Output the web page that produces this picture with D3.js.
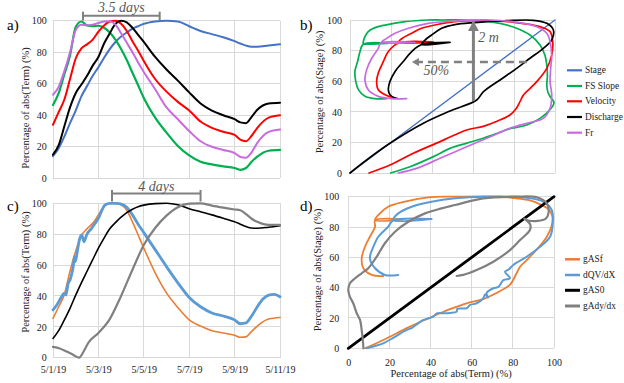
<!DOCTYPE html>
<html><head><meta charset="utf-8">
<script src="https://cdn.jsdelivr.net/npm/d3@7"></script>
<style>
body{margin:0;background:#fff}
svg text{font-family:"Liberation Serif","Times New Roman",serif}
</style>
</head><body>
<svg id="chart" width="624" height="383"></svg>
<script>
// ---------- DATA ----------
const yTicks = [0, 20, 40, 60, 80, 100];
const pctTicks = [0, 20, 40, 60, 80, 100];
const dateLabels = ["5/1/19", "5/3/19", "5/5/19", "5/7/19", "5/9/19", "5/11/19"];
const dateTickDays = [0, 2, 4, 6, 8, 10];

// Panel a (days since 5/1/19)
const daysA = [0,0.25,0.5,0.75,1,1.25,1.5,1.75,2,2.25,2.5,2.75,3,3.25,3.5,3.75,4,4.5,5,5.5,6,6.5,7,7.5,8,8.25,8.5,8.75,9,9.5,10];
const stageA = [14,19,26.5,35,43,52,58.5,65,70.5,76.5,82,86.5,90,92.5,95,96.5,98,99.5,100,99.5,96.5,93.5,91.5,89.5,87,85.5,84.2,83.5,83.5,84.3,85];
const fsSlopeA = [46.5,54,66,78,96,99.5,97,96.5,96.8,95.5,92.5,88,82,75,67,59,51,38.5,29,20.5,14.5,10.5,8.8,7.6,6.5,5.4,6.5,10.5,13.8,17.5,18];
const velocityA = [34,42,50,63,76,82.5,85,88,93,97,99.5,100,98,93.5,87,81,74.5,63,55,48.5,43,36,32,29.5,27.5,24.5,23.5,27,32,38.5,40];
const dischargeA = [15,21,33,45,54,59.5,65,71.5,77,85.5,92,98,100,99,95.5,91,86.5,77,69,62,54.5,47.5,43,40,37.5,35.5,35,39,43.5,47.5,48];
const frA = [53,58,68,80,94,97.5,97,97.5,98.5,99.5,99.7,97.5,92,86,80,73.5,67.5,56.5,45,37.5,30,23.5,20,18,16,13.5,13,16.5,22.5,29.5,31];

// Panel c
const gasfC = [25.5,33,41,56,69,79,83.5,87,92.5,98,100,100,99,95.5,88,79.5,71,55,42,32.5,24.5,20.5,17.5,16,14.5,13.2,13.5,17,20.5,25,26];
const gas0C = [12.5,17.5,24.5,32,40.5,48.5,56,63.5,71,77.5,83.5,87.5,91,94,96.2,97.8,98.8,99.8,100,99,96.5,94.5,92.5,90.3,88,86.5,85,84,83.8,84.5,85.5];
const dqvDays = [0,0.16,0.38,0.48,0.57,0.67,0.75,0.82,0.9,0.94,0.98,1.07,1.16,1.26,1.37,1.48,1.7,2,2.29,2.5,2.8,3,3.25,3.5,3.75,4,4.5,5,5.5,6,6.5,7,7.5,8,8.25,8.5,8.75,9,9.25,9.5,9.75,10];
const dqvC = [31,34,39.5,41.7,40.6,48.2,50.3,54,60,65.4,62.2,68.7,76.2,79.5,75.1,79.5,83.8,90.3,98.9,100,100,99.5,97.5,92.5,86.5,81,70,59,48.5,39,33,29,27,24.5,22,22.5,27,33,38,40.5,41,39.5];
const gadyDays = [0,0.3,0.6,0.9,1.15,1.35,1.55,2,2.5,3,3.5,4,4.5,5,5.5,6,6.5,7,7.5,8,8.25,8.5,8.75,9,9.5,10];
const gadyC = [7,6,4,1.8,0,4,9.5,16,25,40,57,73,84,92,97.5,99.8,100,98.5,97.2,96,95.5,93,90,88,86,86];

// Panel b: [term %, stage %]
const stageB = [[0,0],[100,100]];
const fsSlopeB = [[19.8,0],[29.3,4.1],[40.7,10.7],[48.8,16.1],[57,19.5],[65,22.7],[72,26],[78,29],[81.3,29.8],[86.2,31.4],[92.7,35.7],[97.6,41.5],[99.5,46],[97.6,50],[96.5,53],[96,57.3],[96.3,63.9],[96,70.4],[95.1,77],[92.7,83.7],[87.8,90.2],[81.3,94.6],[73.2,97.8],[65,99.3],[55.3,100],[45,100],[38.2,100],[26.8,98.9],[17.1,96.7],[12.2,95],[8.9,92.4],[7.3,89.1],[6.5,85.8],[6.5,84.6],[18.7,84.8],[6.5,84.2],[4.9,79.4],[3.7,72.9],[2.4,66.4],[2.8,59.9],[4.1,54.5],[7.3,50.1],[12.2,48.6],[17.9,48.6]];
const velocityB = [[9.3,0],[19.5,5.2],[30.9,12.9],[43.9,20.5],[48.8,23.5],[56.9,28.1],[65,30.5],[72,34],[78,37.9],[81,42],[82.9,46.6],[84.6,51],[88,55.5],[91.1,59.7],[96,68.4],[98.4,77],[98.9,85.8],[97.6,92.4],[93,95.5],[89.4,96.7],[80,98.5],[73.2,99.3],[60.2,99.6],[51.2,98.9],[43.1,97.2],[34.9,94.6],[30.1,91.3],[26,88.5],[23.6,85.4],[40.7,85.6],[23.6,85],[18.7,79.4],[16.3,72.9],[13.8,65.3],[13,59.9],[13.8,54.4],[17.1,51.2],[22,49]];
const dischargeB = [[0,0],[8.1,8.5],[19.5,19.4],[35.8,32.5],[48.8,40.5],[61.8,47.7],[65,53],[73.2,60.8],[81.3,68.4],[87.8,75],[94.3,81.5],[98.4,87],[99.2,93.5],[96,97.8],[89.4,99.8],[76.4,99.6],[66.7,98.9],[60.2,98.3],[51.2,97],[44.7,94.6],[39.8,90.2],[36.6,86.9],[35,84.1],[48.8,85.4],[35,84],[30.1,79.4],[26,72.9],[22,66.4],[19.5,59.9],[18.7,54.5],[19.5,51.2],[22,49],[23,48.8]];
const frB = [[23.6,0],[32.5,3],[43.9,9.6],[56.9,17.2],[66.7,22.7],[78,29.2],[87.8,33],[94.3,35.7],[97.6,42.3],[98.4,51],[97.6,59.7],[97.9,68.4],[98.4,77],[97.6,85.8],[96,91.3],[91.1,95.6],[81.3,98.5],[68.3,100],[51.2,99.3],[38.2,97.8],[28.5,94.6],[22,91.3],[17.9,88],[15.4,85.4],[31.7,85.2],[15,85],[13.8,81.5],[10.6,75],[8.1,67.4],[7.3,60.9],[8.9,54.4],[13.8,50.1],[20.3,48.6],[27.6,48.6]];

// Panel d: [term %, stage %]
const gasfD = [[8.1,0],[17,5.5],[30,14.3],[44.6,23.1],[49.4,25.8],[57.5,29.7],[65.6,32.5],[72,36.5],[78.6,42],[81.8,49.5],[83.5,53.8],[85.1,56],[89.9,62.6],[94,69],[96.5,73.6],[98.9,81],[99.2,87],[97.5,91.5],[93.5,94.8],[88.3,97.5],[81.9,98.9],[73.7,100],[51.9,100],[38.9,99.6],[27.6,96.7],[19.4,93.4],[15.4,89],[13,84.6],[26.7,85],[13,84.4],[13,80.2],[10.5,73.6],[8.1,67],[6.5,59.4],[7.3,52.8],[11.4,48.4],[17,47.7]];
const dqvD = [[8.9,0],[13,1.5],[17,3.3],[22,7],[28.4,12.1],[31,13.5],[33,15.5],[36.5,18.7],[38.5,19.5],[41.3,20.9],[43,23],[46.2,23.1],[49.4,23.3],[52.7,24.2],[53,26],[57.5,26.4],[59.2,28.6],[62.4,29.7],[65.6,33],[66.5,35.5],[68,33.5],[67.2,36.3],[70.5,39.6],[73,40.5],[75.4,45],[78.6,46.2],[76.2,50.5],[78,52],[80.2,55],[86.7,60.4],[93.2,67],[98.1,73.6],[99.4,82.4],[98.9,91.2],[94.8,96.7],[85.1,99.5],[65.6,100],[51.9,98.9],[40.5,96.7],[30.8,93.4],[24.3,89],[21.9,84.6],[40.5,85.3],[21.9,84.4],[19.4,80.2],[14.6,73.6],[12.2,67],[10.5,59.4],[13,52.8],[17.8,48.4],[24.3,48.4]];
const gas0D = [[0,0],[100,100]];
const gadyD = [[7.3,0],[7.3,1],[6.5,12],[5.7,18.7],[4.1,23.1],[2.4,29.7],[0.8,34],[0,38.5],[0.8,42.9],[3.3,46.2],[6.5,49.5],[9.7,52.8],[13.8,60.4],[17.8,69.3],[22.7,76.9],[29.2,83.5],[37.3,89],[45.4,92.3],[51.9,94.5],[65.6,98.9],[81.9,100],[91.6,99.6],[96.5,95.6],[97.3,89],[96,85.5],[92,84],[87.5,84.3],[85.5,85.5],[87,84],[88.5,81.5],[88.3,78],[83.5,71.4],[78.6,64.8],[70.5,57.1],[62.4,51.6],[55.9,48.4],[52.7,47.7]];

const legendB = ["Stage", "FS Slope", "Velocity", "Discharge", "Fr"];
const legendD = ["gASf", "dQV/dX", "gAS0", "gAdy/dx"];

// ---------- DRAW ----------
const FONT = '"Liberation Serif","Times New Roman",serif';
const svg = d3.select("#chart");
const base = new Date(2019, 4, 1);
const toDate = d => d3.timeMinute.offset(base, Math.round(d * 1440));

const xT = d3.scaleTime().domain([toDate(0), toDate(10)]).range([53, 280]);
const yA = d3.scaleLinear().domain([0, 100]).range([178.3, 20.7]);
const yC = d3.scaleLinear().domain([0, 100]).range([357.7, 203.3]);
const xB = d3.scaleLinear().domain([0, 100]).range([350, 555]);
const yB = d3.scaleLinear().domain([0, 100]).range([173, 20]);
const xD = d3.scaleLinear().domain([0, 100]).range([348.3, 554]);
const yD = d3.scaleLinear().domain([0, 100]).range([348.3, 196.7]);

const defs = svg.append("defs");
defs.append("marker").attr("id", "ah").attr("markerUnits", "userSpaceOnUse")
  .attr("markerWidth", 11).attr("markerHeight", 11).attr("refX", 10).attr("refY", 5.5).attr("orient", "auto")
  .append("path").attr("d", "M0,0 L10,5.5 L0,11 Z").attr("fill", "#808080");
defs.append("marker").attr("id", "ah2").attr("markerUnits", "userSpaceOnUse")
  .attr("markerWidth", 8).attr("markerHeight", 8).attr("refX", 7).attr("refY", 4).attr("orient", "auto")
  .append("path").attr("d", "M0,0 L7,4 L0,8 Z").attr("fill", "#808080");

function grid(x, y, xVals, yVals) {
  const g = svg.append("g").attr("shape-rendering", "crispEdges");
  g.selectAll(null).data(yVals).join("line")
    .attr("x1", x.range()[0]).attr("x2", x.range()[1])
    .attr("y1", d => y(d)).attr("y2", d => y(d))
    .attr("stroke", "#d9d9d9").attr("stroke-width", 1);
  g.selectAll(null).data(xVals).join("line")
    .attr("x1", d => x(d)).attr("x2", d => x(d))
    .attr("y1", y.range()[0]).attr("y2", y.range()[1])
    .attr("stroke", "#d9d9d9").attr("stroke-width", 1);
}
function styleAxis(g) {
  g.select(".domain").remove();
  g.attr("font-family", FONT).attr("font-size", 10);
  g.selectAll("text").attr("fill", "#222");
}
function yAxis(y, xpos, pad) {
  svg.append("g").attr("transform", `translate(${xpos},0)`)
    .call(d3.axisLeft(y).tickValues(yTicks).tickSize(0).tickPadding(pad))
    .call(styleAxis);
}
function vTitle(text, x, y) {
  svg.append("text").attr("transform", `translate(${x},${y}) rotate(-90)`)
    .attr("text-anchor", "middle").attr("dominant-baseline", "central")
    .attr("font-size", 10.5).attr("fill", "#222").text(text);
}
function label(text, x, y) {
  svg.append("text").attr("x", x).attr("y", y).attr("font-size", 15).attr("fill", "#000").text(text);
}
function tsLine(days, vals, y, color, w) {
  const pts = days.map((d, i) => [toDate(d), vals[i]]);
  svg.append("path").datum(pts)
    .attr("d", d3.line().x(p => xT(p[0])).y(p => y(p[1])).curve(d3.curveMonotoneX))
    .attr("fill", "none").attr("stroke", color).attr("stroke-width", w)
    .attr("stroke-linejoin", "round").attr("stroke-linecap", "round");
}
function loopLine(pts, x, y, color, w, smooth = true) {
  svg.append("path").datum(pts)
    .attr("d", d3.line().x(p => x(p[0])).y(p => y(p[1])).curve(smooth ? d3.curveCatmullRom.alpha(0.5) : d3.curveLinear))
    .attr("fill", "none").attr("stroke", color).attr("stroke-width", w)
    .attr("stroke-linejoin", "round").attr("stroke-linecap", "round");
}
function italicNote(text, x, y, anchor = "middle") {
  svg.append("text").attr("x", x).attr("y", y).attr("text-anchor", anchor)
    .attr("font-size", 14).attr("font-style", "italic").attr("fill", "#595959").text(text);
}
function bracket(x1, x2, y, top, bottom) {
  const g = svg.append("g").attr("stroke", "#808080").attr("stroke-width", 2);
  g.append("line").attr("x1", x1).attr("x2", x2).attr("y1", y).attr("y2", y);
  g.append("line").attr("x1", x1).attr("x2", x1).attr("y1", top).attr("y2", bottom);
  g.append("line").attr("x1", x2).attr("x2", x2).attr("y1", top).attr("y2", bottom);
}
function legend(names, colors, widths, x, ys) {
  const g = svg.append("g");
  names.forEach((n, i) => {
    g.append("line").attr("x1", x).attr("x2", x + 15).attr("y1", ys[i]).attr("y2", ys[i])
      .attr("stroke", colors[i]).attr("stroke-width", widths[i]);
    g.append("text").attr("x", x + 18).attr("y", ys[i]).attr("dominant-baseline", "central")
      .attr("font-size", 9.4).attr("fill", "#222").text(n);
  });
}

const C = {stage: "#4472C4", fs: "#00B050", vel: "#FF0000", dis: "#000000", fr: "#C86BE0",
           gasf: "#ED7D31", dqv: "#5B9BD5", gas0: "#000000", gady: "#808080"};

// ---- Panel a ----
grid(xT, yA, dateTickDays.map(toDate), yTicks);
yAxis(yA, 53, 6.3);
vTitle("Percentage of abs(Term) (%)", 25, 108);
label("a)", 7, 29.5);
tsLine(daysA, stageA, yA, C.stage, 2);
tsLine(daysA, fsSlopeA, yA, C.fs, 2.2);
tsLine(daysA, velocityA, yA, C.vel, 2);
tsLine(daysA, dischargeA, yA, C.dis, 2);
tsLine(daysA, frA, yA, C.fr, 2);
bracket(xT(toDate(1.32)), xT(toDate(4.7)), 15.7, 11.7, 20.5);
italicNote("3.5 days", (xT(toDate(1.32)) + xT(toDate(4.7))) / 2, 12);

// ---- Panel c ----
grid(xT, yC, dateTickDays.map(toDate), yTicks);
yAxis(yC, 53, 6.3);
svg.append("g").attr("transform", `translate(0,${yC(0)})`)
  .call(d3.axisBottom(xT).tickValues(dateTickDays.map(toDate)).tickFormat((d, i) => dateLabels[i]).tickSize(0).tickPadding(8))
  .call(styleAxis);
vTitle("Percentage of abs(Term) (%)", 25, 272);
label("c)", 7, 211);
tsLine(daysA, gasfC, yC, C.gasf, 1.6);
tsLine(dqvDays, dqvC, yC, C.dqv, 2.8);
tsLine(daysA, gas0C, yC, C.gas0, 1.6);
tsLine(gadyDays, gadyC, yC, C.gady, 2.2);
bracket(xT(toDate(2.6)), xT(toDate(6.5)), 193.5, 190, 201.5);
italicNote("4 days", (xT(toDate(2.6)) + xT(toDate(6.5))) / 2, 191);

// ---- Panel b ----
grid(xB, yB, pctTicks, yTicks);
yAxis(yB, 350, 8);
vTitle("Percentage of abs(Stage) (%)", 319, 92);
label("b)", 300, 29.5);
loopLine(stageB, xB, yB, C.stage, 1.3, false);
loopLine(fsSlopeB, xB, yB, C.fs, 1.7);
loopLine(velocityB, xB, yB, C.vel, 1.7);
loopLine(dischargeB, xB, yB, C.dis, 1.7);
loopLine(frB, xB, yB, C.fr, 1.7);
svg.append("line").attr("x1", xB(60.2)).attr("x2", xB(60.2)).attr("y1", yB(47)).attr("y2", yB(99.3))
  .attr("stroke", "#808080").attr("stroke-width", 3).attr("marker-end", "url(#ah)");
svg.append("line").attr("x1", xB(86.3)).attr("x2", xB(30.2)).attr("y1", yB(72.5)).attr("y2", yB(72.5))
  .attr("stroke", "#808080").attr("stroke-width", 2.5).attr("stroke-dasharray", "8,5").attr("marker-end", "url(#ah2)");
italicNote("2 m", xB(62.5), 42, "start");
italicNote("50%", xB(35.8), 75, "start");
legend(legendB, [C.stage, C.fs, C.vel, C.dis, C.fr], [2.2, 2.2, 2.2, 2.2, 2.2], 567, [70.3, 86, 101.3, 117, 132.7]);

// ---- Panel d ----
grid(xD, yD, pctTicks, yTicks);
yAxis(yD, 348.3, 9);
svg.append("g").attr("transform", `translate(0,${yD(0)})`)
  .call(d3.axisBottom(xD).tickValues(pctTicks).tickSize(0).tickPadding(11))
  .call(styleAxis);
vTitle("Percentage of abs(Stage) (%)", 317, 270);
svg.append("text").attr("x", (xD(0) + xD(100)) / 2).attr("y", 377).attr("text-anchor", "middle")
  .attr("font-size", 10.5).attr("fill", "#222").text("Percentage of abs(Term) (%)");
label("d)", 300, 211);
loopLine(gasfD, xD, yD, C.gasf, 1.8);
loopLine(dqvD, xD, yD, C.dqv, 2);
loopLine(gas0D, xD, yD, C.gas0, 2.8, false);
loopLine(gadyD, xD, yD, C.gady, 2.2);
legend(legendD, [C.gasf, C.dqv, C.gas0, C.gady], [2.5, 2.5, 3, 3], 565, [259.3, 275, 290.3, 306]);
</script>
</body></html>
